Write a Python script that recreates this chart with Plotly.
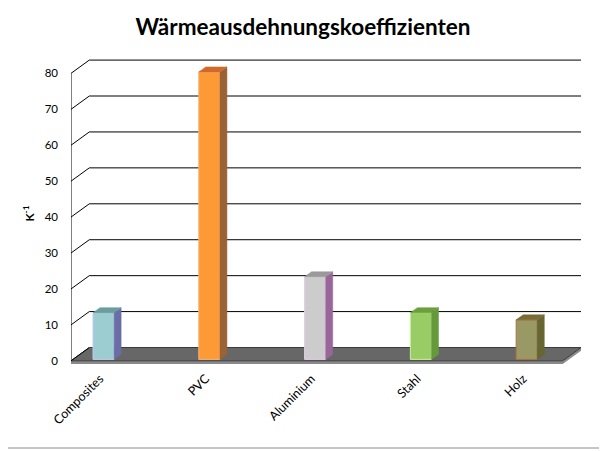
import plotly.graph_objects as go

categories = ["Composites", "PVC", "Aluminium", "Stahl", "Holz"]
values = [13, 80, 23, 13, 11]
tick_values = [0, 10, 20, 30, 40, 50, 60, 70, 80]
front_colors = ["#9ccdd0", "#fd9a36", "#cccccc", "#9acc66", "#999966"]
side_colors = ["#6a6ea6", "#9a6333", "#996699", "#66993a", "#666633"]
top_colors = ["#6b9d9f", "#cf6a2c", "#9a9a9a", "#6aa03c", "#7a6a38"]
edge_colors = ["#c8c8f0", "#f5b47a", "#e8c8ec", "#c8f0a0", "#b07040"]

# 3D geometry (in data units)
X_LEFT, X_RIGHT = -0.308, 4.34      # front plane extent
DX, DY = 0.173, 3.7                 # depth offset of the back wall
BAR_W, BAR_DX, BAR_DY = 0.2, 0.066, 1.4
BASE = 0.4
LABEL_SHIFT = 0.035

# page has an 8px body margin; compensate
W, H = 599, 443
ML, MT, MR, MB = 63, 51, 26, 83
PW, PH = W - ML - MR, H - MT - MB

fig = go.Figure()
shapes = []

# floor (front strip + top)
shapes.append(dict(type="path", xref="x", yref="y", layer="below",
                   path=f"M{X_LEFT},0 L{X_RIGHT},0 L{X_RIGHT+DX},{DY} L{X_RIGHT+DX},{DY-0.9} L{X_RIGHT},-0.9 L{X_LEFT},-0.9 Z",
                   fillcolor="#8a8a8a", line=dict(width=0)))
shapes.append(dict(type="path", xref="x", yref="y", layer="below",
                   path=f"M{X_LEFT},0 L{X_RIGHT},0 L{X_RIGHT+DX},{DY} L{X_LEFT+DX},{DY} Z",
                   fillcolor="#676767", line=dict(color="#3a3a3a", width=1)))

# gridlines: slant on side wall + horizontal on back wall
for t in tick_values:
    shapes.append(dict(type="line", xref="x", yref="y", layer="below",
                       x0=X_LEFT, y0=t, x1=X_LEFT+DX, y1=t+DY,
                       line=dict(color="#000000", width=1)))
    if t > 0:
        shapes.append(dict(type="line", xref="x", yref="y", layer="below",
                           x0=X_LEFT+DX, y0=t+DY, x1=X_RIGHT+DX, y1=t+DY,
                           line=dict(color="#000000", width=1)))
# front value axis
shapes.append(dict(type="line", xref="x", yref="y", layer="below",
                   x0=X_LEFT, y0=0, x1=X_LEFT, y1=tick_values[-1],
                   line=dict(color="#000000", width=1)))

# outer chart border
shapes.append(dict(type="rect", xref="paper", yref="paper",
                   x0=(-8 - ML) / PW, x1=(596 - ML) / PW,
                   y0=-(440 - (MT + PH)) / PH, y1=1 + (MT + 8) / PH,
                   line=dict(color="#8c8c8c", width=1)))

xs = list(range(len(categories)))

# front faces
fig.add_trace(go.Bar(x=xs, y=values, base=BASE, width=BAR_W,
                     marker=dict(color=front_colors, line=dict(color=edge_colors, width=1)),
                     hoverinfo="skip", showlegend=False))

# side and top faces
for i, v in enumerate(values):
    xr = i + BAR_W / 2
    xl = i - BAR_W / 2
    top = BASE + v
    fig.add_trace(go.Scatter(
        x=[xr, xr + BAR_DX, xr + BAR_DX, xr, xr],
        y=[BASE, BASE + BAR_DY, top + BAR_DY, top, BASE],
        fill="toself", fillcolor=side_colors[i], mode="lines",
        line=dict(color=side_colors[i], width=0.5),
        hoverinfo="skip", showlegend=False))
    fig.add_trace(go.Scatter(
        x=[xl, xl + BAR_DX, xr + BAR_DX, xr, xl],
        y=[top, top + BAR_DY, top + BAR_DY, top, top],
        fill="toself", fillcolor=top_colors[i], mode="lines",
        line=dict(color=top_colors[i], width=0.5),
        hoverinfo="skip", showlegend=False))

fig.update_layout(
    width=W, height=H,
    margin=dict(l=ML, r=MR, t=MT, b=MB, autoexpand=False),
    paper_bgcolor="white", plot_bgcolor="white",
    font=dict(family="Lato, Open Sans, sans-serif", color="#000000", size=11),
    title=dict(text="<b>Wärmeausdehnungskoeffizienten</b>", x=295 / W, xref="container",
               y=1 - 19 / H, yref="container", yanchor="middle", xanchor="center",
               font=dict(size=22.5, family="Lato, Open Sans, sans-serif", color="#000000")),
    shapes=shapes,
    xaxis=dict(range=[X_LEFT, X_RIGHT + DX], tickvals=[x - LABEL_SHIFT for x in xs],
               ticktext=categories,
               tickangle=-45, showgrid=False, zeroline=False, showline=False,
               ticks="", ticklabelstandoff=0, tickfont=dict(size=12.5)),
    yaxis=dict(range=[-2, 84], tickvals=tick_values, showgrid=False, zeroline=False,
               showline=False, ticks="", ticklabelstandoff=12, tickfont=dict(size=11.5),
               title=dict(text="<b>K<sup>-1</sup></b>", standoff=7, font=dict(size=12))),
)

fig.write_html("out.html")
